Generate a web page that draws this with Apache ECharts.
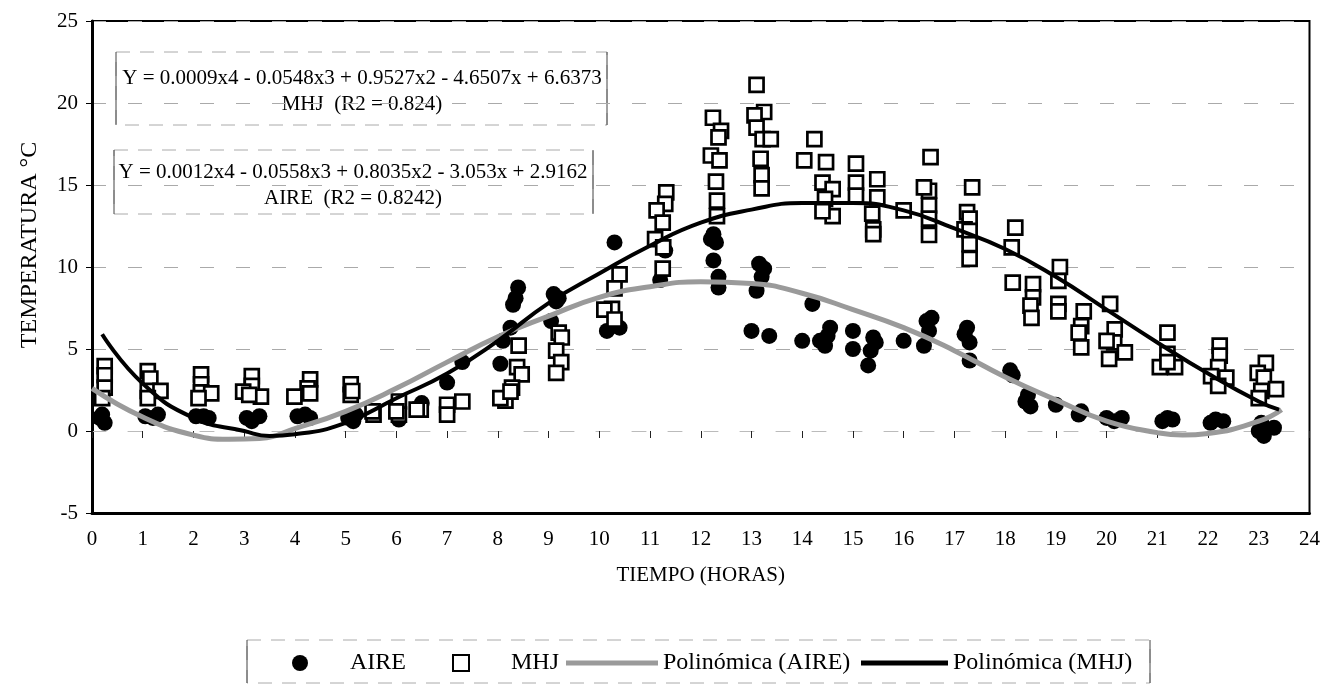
<!DOCTYPE html>
<html>
<head>
<meta charset="utf-8">
<script src="https://cdn.jsdelivr.net/npm/echarts@6/dist/echarts.min.js"></script>
<style>
html,body{margin:0;padding:0;background:#fff;}
#chart{width:1323px;height:685px;}
</style>
</head>
<body>
<div id="chart"></div>
<script>
// ---- data ----
const xTicks = [0,1,2,3,4,5,6,7,8,9,10,11,12,13,14,15,16,17,18,19,20,21,22,23,24];
const yTicks = [-5,0,5,10,15,20,25];

const aireX = [0.2,0.25,0.15, 1.05,1.2,1.3, 2.05,2.2,2.3, 3.05,3.15,3.3, 4.05,4.3,4.2, 5.05,5.15,5.2,
  6.05,6.5,7.0,7.3, 8.4,8.3,8.25,8.1,8.05,8.35, 9.1,9.15,9.05,9.2, 10.3,10.15,10.4, 11.2,11.3,
  12.25,12.3,12.25,12.35,12.35,12.2, 13.15,13.2,13.1,13.25,13.0,13.35,
  14.2,14.0,14.35,14.55,14.5,14.45, 15.0,15.0,15.4,15.35,15.3,15.45,
  16.0,16.45,16.5,16.4,16.55, 17.25,17.3,17.3,17.2, 18.1,18.15,18.45,18.5,18.4,
  19.0,19.45,19.5, 20.0,20.3,20.15, 21.2,21.1,21.3, 22.15,22.05,22.3, 23.0,23.3,23.05,23.1];
const aireY = [1.0,0.5,0.8, 0.9,0.8,1.0, 0.9,0.9,0.8, 0.8,0.6,0.9, 0.9,0.8,1.0, 0.8,0.6,1.0,
  0.7,1.7,2.95,4.2, 8.75,7.7,6.3,5.5,4.1,8.1, 8.35,7.9,6.7,8.1, 11.5,6.1,6.3, 9.2,11.0,
  12.0,11.5,10.4,9.4,8.75,11.7, 10.2,9.4,8.55,9.9,6.1,5.8,
  7.75,5.5,5.5,6.3,5.8,5.2, 6.1,5.0,5.7,4.9,4.0,5.4,
  5.5,6.7,6.1,5.2,6.9, 6.3,5.4,4.3,5.9, 3.7,3.4,2.2,1.5,1.8,
  1.6,1.0,1.2, 0.8,0.8,0.6, 0.8,0.6,0.7, 0.7,0.5,0.6, 0.0,0.2,0.5,-0.3];

const mhjX = [0.25,0.25,0.25,0.2, 1.1,1.15,1.1,1.35,1.1, 2.15,2.15,2.15,2.35,2.1, 3.15,3.15,2.98,3.33,3.1,
  4.3,4.25,3.99,4.3, 5.1,5.1,5.13, 5.55,5.53,6.05,6.05,6.0,6.48,6.4, 7.0,7.3,7.0,
  8.41,8.38,8.47,8.28,8.15,8.05,8.25, 9.2,9.26,9.15,9.25,9.15, 10.4,10.3,10.25,10.1,10.3,
  11.32,11.3,11.13,11.25,11.1,11.26,11.25,
  12.24,12.4,12.35,12.2,12.37,12.3,12.32,12.32,
  13.1,13.25,13.06,13.1,13.22,13.38,13.18,13.2,13.2,
  14.24,14.04,14.47,14.4,14.6,14.45,14.6,14.4,
  15.06,15.06,15.06,15.48,15.48,15.38,15.4,15.4,
  16.0,16.53,16.5,16.4,16.5,16.5,16.5,
  17.35,17.25,17.3,17.2,17.3,17.3,17.3,
  18.2,18.13,18.15,18.55,18.55,18.5,18.52,
  19.08,19.05,19.05,19.05,19.55,19.5,19.45,19.5,
  20.07,20.16,20.15,20.0,20.05,20.36,
  21.2,21.2,21.05,21.35,21.2,
  22.23,22.23,22.2,22.06,22.36,22.2,
  23.14,22.98,23.1,23.34,23.05,23.0];
const mhjY = [3.95,3.4,2.65,2.0, 3.65,3.2,2.45,2.45,2.0, 3.45,2.85,2.35,2.3,2.0, 3.35,2.75,2.4,2.1,2.2,
  3.15,2.6,2.1,2.3, 2.85,2.2,2.44, 1.0,1.2,1.8,1.0,1.2,1.3,1.3, 1.6,1.8,1.0,
  5.2,3.9,3.45,2.65,1.85,2.0,2.4, 6.0,5.7,4.9,4.2,3.55, 9.55,8.7,7.45,7.4,6.8,
  14.55,13.85,13.45,12.7,11.7,11.2,9.9,
  19.1,18.3,17.9,16.8,16.5,15.2,14.05,13.1,
  21.1,19.45,19.25,18.5,17.8,17.8,16.6,15.6,14.8,
  17.8,16.5,16.4,15.15,14.75,14.15,13.1,13.4,
  16.3,15.15,14.35,15.35,14.25,13.25,12.3,12.0,
  13.45,16.7,14.65,14.85,13.75,12.95,11.95,
  14.85,13.35,12.95,12.3,12.2,11.4,10.5,
  12.4,11.2,9.05,8.95,8.15,7.65,6.9,
  10.0,9.15,7.75,7.3,7.3,6.4,6.0,5.1,
  7.75,6.2,5.4,5.5,4.4,4.8,
  6.0,4.7,3.9,3.9,4.2,
  5.2,4.6,3.9,3.35,3.25,2.75,
  4.15,3.55,3.25,2.55,2.45,2.0];

const fitAireX = [0,1,2,2.7,3.3,4,5,6,7,8,9,10,11,12,13,14,15,16,17,18,19,20,21,21.5,22,23,23.45];
const fitAireY = [2.6,0.85,-0.25,-0.5,-0.45,0.15,1.2,2.6,4.2,5.75,7.0,8.15,8.8,9.1,9.0,8.4,7.4,6.3,4.9,3.3,1.9,0.6,-0.1,-0.25,-0.15,0.6,1.3];
const fitMhjX = [0.2,1,2,3,3.5,4,5,6,7,8,9,10,11,12,13,14,15,16,17,18,19,20,21,22,23,23.4];
const fitMhjY = [5.9,2.9,0.8,0.0,-0.3,-0.2,0.5,2.0,3.5,5.5,7.8,9.6,11.3,12.7,13.5,13.9,13.9,13.45,12.35,11.1,9.4,7.4,5.4,3.5,1.8,1.3];

const seriesNames = ['AIRE','MHJ','Polinómica (AIRE)','Polinómica (MHJ)'];
const eqMhj = ['Y = 0.0009x4 - 0.0548x3 + 0.9527x2 - 4.6507x + 6.6373', 'MHJ  (R2 = 0.824)'];
const eqAire = ['Y = 0.0012x4 - 0.0558x3 + 0.8035x2 - 3.053x + 2.9162', 'AIRE  (R2 = 0.8242)'];

const zip = (a, b) => a.map((v, i) => [v, b[i]]);
const FONT = 'Liberation Serif';
const legendText = { fontSize: 24, color: '#000', fontFamily: FONT };

function legendAt(name, left, width, height, icon, padLeft) {
  return {
    data: [name], left: left, top: 651, padding: 0,
    itemWidth: width, itemHeight: height, icon: icon,
    textStyle: Object.assign({}, legendText, { padding: [0, 0, 0, padLeft] })
  };
}

function box(x, y, w, h) {
  return [
    { type: 'rect', shape: { x: x, y: y, width: w, height: h }, style: { fill: 'none', stroke: '#aaa', lineWidth: 1, lineDash: [14, 10] } },
    { type: 'line', shape: { x1: x, y1: y, x2: x, y2: y + h }, style: { stroke: '#444', lineWidth: 1 } },
    { type: 'line', shape: { x1: x + w, y1: y, x2: x + w, y2: y + h }, style: { stroke: '#444', lineWidth: 1 } }
  ];
}
function centerText(str, x, y) {
  return { type: 'text', x: x, y: y, style: { text: str, fontSize: 21, fontFamily: FONT, fill: '#000', align: 'center', verticalAlign: 'middle' } };
}

const chart = echarts.init(document.getElementById('chart'));
chart.setOption({
  animation: false,
  backgroundColor: '#fff',
  textStyle: { fontFamily: FONT, color: '#000' },
  grid: { left: 92, right: 9, top: 21, bottom: 172, show: true, borderColor: '#000', borderWidth: 2, backgroundColor: 'transparent' },
  xAxis: [{
    type: 'value', min: xTicks[0], max: xTicks[xTicks.length - 1], interval: 1,
    position: 'bottom',
    axisLine: { onZero: false, lineStyle: { color: '#000', width: 3 } },
    axisTick: { show: false },
    splitLine: { show: false },
    axisLabel: { fontSize: 21, color: '#000', fontFamily: FONT, margin: 16 },
    name: 'TIEMPO (HORAS)', nameLocation: 'middle', nameGap: 52,
    nameTextStyle: { fontSize: 21, color: '#000', fontFamily: FONT }
  }, {
    type: 'value', min: xTicks[0], max: xTicks[xTicks.length - 1], interval: 1,
    position: 'bottom',
    axisLine: { onZero: true, lineStyle: { color: '#bbb', width: 1, type: [14, 22] } },
    axisTick: { show: true, inside: false, length: 7, lineStyle: { color: '#222', width: 1 } },
    axisLabel: { show: false },
    splitLine: { show: false }
  }],
  yAxis: {
    type: 'value', min: yTicks[0], max: yTicks[yTicks.length - 1], interval: 5,
    axisLine: { show: true, onZero: false, lineStyle: { color: '#000', width: 3 } },
    axisTick: { show: true, length: 6, lineStyle: { color: '#000', width: 1 } },
    axisLabel: { fontSize: 21, color: '#000', fontFamily: FONT, margin: 14 },
    splitLine: { show: true, lineStyle: { color: '#aaa', width: 1, type: [14, 22] } },
    name: 'TEMPERATURA °C', nameLocation: 'middle', nameGap: 50, nameRotate: 90,
    nameTextStyle: { fontSize: 24, color: '#000', fontFamily: FONT, padding: [0, 0, 0, 44] }
  },
  legend: [
    legendAt(seriesNames[0], 292, 16, 16, 'circle', 37),
    legendAt(seriesNames[1], 452, 16, 16, 'rect', 37),
    legendAt(seriesNames[2], 566, 92, 5, 'rect', 0),
    legendAt(seriesNames[3], 861, 87, 5, 'rect', 0)
  ],
  graphic: [].concat(
    box(116, 52, 491, 73),
    [centerText(eqMhj[0], 362, 78), centerText(eqMhj[1], 362, 104)],
    box(114, 150, 479, 64),
    [centerText(eqAire[0], 353, 172), centerText(eqAire[1], 353, 198)],
    box(247, 640, 903, 43)
  ),
  series: [
    { name: seriesNames[0], type: 'scatter', xAxisIndex: 0, data: zip(aireX, aireY),
      symbol: 'circle', symbolSize: 16, itemStyle: { color: '#000', opacity: 1 }, z: 2 },
    { name: seriesNames[1], type: 'scatter', xAxisIndex: 0, data: zip(mhjX, mhjY),
      symbol: 'rect', symbolSize: 14, itemStyle: { color: '#fff', borderColor: '#000', borderWidth: 2.7, opacity: 1 }, z: 3 },
    { name: seriesNames[2], type: 'line', xAxisIndex: 0, data: zip(fitAireX, fitAireY), smooth: true,
      symbol: 'none', lineStyle: { color: '#9a9a9a', width: 5 }, itemStyle: { color: '#9a9a9a' }, z: 4 },
    { name: seriesNames[3], type: 'line', xAxisIndex: 0, data: zip(fitMhjX, fitMhjY), smooth: true,
      symbol: 'none', lineStyle: { color: '#000', width: 4 }, itemStyle: { color: '#000' }, z: 5 }
  ]
});
</script>
</body>
</html>
